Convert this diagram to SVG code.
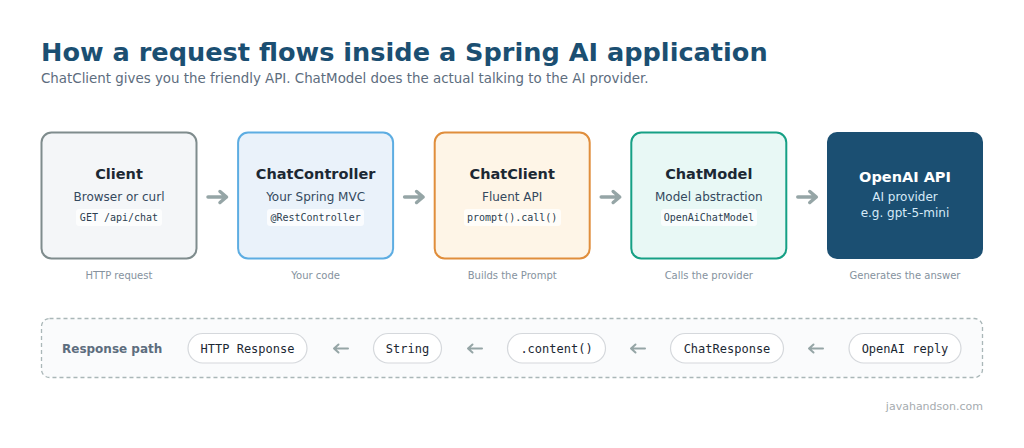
<svg xmlns="http://www.w3.org/2000/svg" width="1024" height="448" viewBox="0 0 1024 448">
<defs>
<style>
.title{font-family:"DejaVu Sans",sans-serif;font-weight:bold;font-size:25.6px;fill:#1b4f72}
.subtitle{font-family:"DejaVu Sans",sans-serif;font-size:13.4px;fill:#5d6d7e}
.ntitle{font-family:"DejaVu Sans",sans-serif;font-weight:bold;font-size:14.5px;fill:#1c2833;text-anchor:middle}
.nsub{font-family:"DejaVu Sans",sans-serif;font-size:12px;fill:#34495e;text-anchor:middle}
.ncode{font-family:"DejaVu Sans Mono",monospace;font-size:10px;fill:#2c3e50;text-anchor:middle}
.codebg{fill:#ffffff;fill-opacity:0.75}
.below{font-family:"DejaVu Sans",sans-serif;font-size:10px;fill:#85929e;text-anchor:middle}
.arrow{fill:none;stroke:#95a5a6;stroke-width:3.5;stroke-linecap:round;stroke-linejoin:round}
.larrow{fill:none;stroke:#95a5a6;stroke-width:2;stroke-linecap:round;stroke-linejoin:round}
.pill{fill:#ffffff;stroke:#d5d8dc;stroke-width:1.2}
.ptext{font-family:"DejaVu Sans Mono",monospace;font-size:12px;fill:#1c2833;text-anchor:middle}
.rlabel{font-family:"DejaVu Sans",sans-serif;font-weight:bold;font-size:12px;fill:#5d6d7e}
</style>
</defs>
<rect width="1024" height="448" fill="#ffffff"/>
<text class="title" x="41" y="61">How a request flows inside a Spring AI application</text>
<text class="subtitle" x="41" y="83">ChatClient gives you the friendly API. ChatModel does the actual talking to the AI provider.</text>

<g id="client">
<rect x="41.5" y="132.5" width="155" height="126" rx="10" fill="#f4f6f8" stroke="#7f8c8d" stroke-width="2"/>
<text class="ntitle" x="119" y="179">Client</text>
<text class="nsub" x="119" y="201">Browser or curl</text>
<rect class="codebg" x="76" y="209" width="86" height="17" rx="3"/>
<text class="ncode" x="119" y="221">GET /api/chat</text>
<text class="below" x="119" y="279">HTTP request</text>
</g>

<g id="chatcontroller">
<rect x="238.1" y="132.5" width="155" height="126" rx="10" fill="#eaf2fa" stroke="#5dade2" stroke-width="2"/>
<text class="ntitle" x="315.6" y="179">ChatController</text>
<text class="nsub" x="315.6" y="201">Your Spring MVC</text>
<rect class="codebg" x="267" y="209" width="97" height="17" rx="3"/>
<text class="ncode" x="315.6" y="221">@RestController</text>
<text class="below" x="315.6" y="279">Your code</text>
</g>

<g id="chatclient">
<rect x="434.7" y="132.5" width="155" height="126" rx="10" fill="#fef5e7" stroke="#e08e3c" stroke-width="2"/>
<text class="ntitle" x="512.2" y="179">ChatClient</text>
<text class="nsub" x="512.2" y="201">Fluent API</text>
<rect class="codebg" x="464" y="209" width="97" height="17" rx="3"/>
<text class="ncode" x="512.2" y="221">prompt().call()</text>
<text class="below" x="512.2" y="279">Builds the Prompt</text>
</g>

<g id="chatmodel">
<rect x="631.3" y="132.5" width="155" height="126" rx="10" fill="#e8f8f5" stroke="#16a085" stroke-width="2"/>
<text class="ntitle" x="708.8" y="179">ChatModel</text>
<text class="nsub" x="708.8" y="201">Model abstraction</text>
<rect class="codebg" x="661" y="209" width="96" height="17" rx="3"/>
<text class="ncode" x="708.8" y="221">OpenAiChatModel</text>
<text class="below" x="708.8" y="279">Calls the provider</text>
</g>

<g id="openai">
<rect x="827" y="132" width="156" height="127" rx="10" fill="#1b4f72"/>
<text class="ntitle" x="905" y="182" style="fill:#ffffff">OpenAI API</text>
<text class="nsub" x="905" y="201" style="fill:#d6eaf8">AI provider</text>
<text class="nsub" x="905" y="217" style="fill:#d6eaf8">e.g. gpt-5-mini</text>
<text class="below" x="905" y="279">Generates the answer</text>
</g>

<g id="connectors">
<path class="arrow" d="M208 197 H226 M220 191.5 L226.5 197 L220 202.5"/>
<path class="arrow" d="M404.6 197 H422.6 M416.6 191.5 L423.1 197 L416.6 202.5"/>
<path class="arrow" d="M601.2 197 H619.2 M613.2 191.5 L619.7 197 L613.2 202.5"/>
<path class="arrow" d="M797.8 197 H815.8 M809.8 191.5 L816.3 197 L809.8 202.5"/>
</g>

<g id="response-path">
<rect x="41.5" y="318.5" width="941" height="59" rx="8" fill="#fafbfc" stroke="#aab7b8" stroke-width="1.3" stroke-dasharray="4 3"/>
<text class="rlabel" x="62" y="353">Response path</text>
<g id="pill-http">
<rect class="pill" x="188" y="333.5" width="119" height="29.5" rx="14.75"/>
<text class="ptext" x="247.5" y="352.5">HTTP Response</text>
</g>
<g id="pill-string">
<rect class="pill" x="373.5" y="333.5" width="68" height="29.5" rx="14.75"/>
<text class="ptext" x="407.5" y="352.5">String</text>
</g>
<g id="pill-content">
<rect class="pill" x="507.5" y="333.5" width="98" height="29.5" rx="14.75"/>
<text class="ptext" x="556.5" y="352.5">.content()</text>
</g>
<g id="pill-chatresponse">
<rect class="pill" x="670.5" y="333.5" width="113" height="29.5" rx="14.75"/>
<text class="ptext" x="727" y="352.5">ChatResponse</text>
</g>
<g id="pill-openai">
<rect class="pill" x="849" y="333.5" width="112" height="29.5" rx="14.75"/>
<text class="ptext" x="905" y="352.5">OpenAI reply</text>
</g>
<g id="response-connectors">
<path class="larrow" d="M348 348.5 H334 M338.5 344.5 L334 348.5 L338.5 352.5"/>
<path class="larrow" d="M482 348.5 H468 M472.5 344.5 L468 348.5 L472.5 352.5"/>
<path class="larrow" d="M645 348.5 H631 M635.5 344.5 L631 348.5 L635.5 352.5"/>
<path class="larrow" d="M823 348.5 H809 M813.5 344.5 L809 348.5 L813.5 352.5"/>
</g>
</g>

<text x="983" y="410" text-anchor="end" style="font-family:'DejaVu Sans',sans-serif;font-size:11px;fill:#a6acaf">javahandson.com</text>
</svg>
